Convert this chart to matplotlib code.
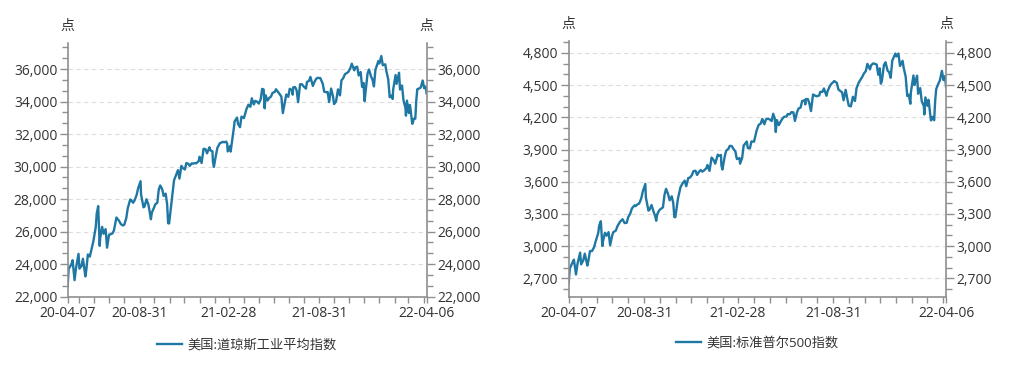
import numpy as np
import pandas as pd
import matplotlib
matplotlib.use("Agg")
import matplotlib.pyplot as plt
import matplotlib.dates as mdates
from matplotlib.ticker import FixedLocator, FixedFormatter, MultipleLocator, StrMethodFormatter

plt.rcParams['font.family'] = ['Open Sans', 'Noto Sans CJK SC', 'DejaVu Sans']

# 日期（两个指数共用）
dates = [
    "2020-04-07", "2020-04-09", "2020-04-14", "2020-04-17", "2020-04-21", "2020-04-24",
    "2020-04-29", "2020-05-01", "2020-05-05", "2020-05-08", "2020-05-13", "2020-05-15",
    "2020-05-18", "2020-05-22", "2020-05-26", "2020-05-29", "2020-06-03", "2020-06-05",
    "2020-06-08", "2020-06-11", "2020-06-12", "2020-06-16", "2020-06-19", "2020-06-23",
    "2020-06-26", "2020-06-30", "2020-07-02", "2020-07-07", "2020-07-10", "2020-07-15",
    "2020-07-20", "2020-07-24", "2020-07-28", "2020-07-31", "2020-08-04", "2020-08-07",
    "2020-08-12", "2020-08-14", "2020-08-18", "2020-08-21", "2020-08-25", "2020-08-28",
    "2020-09-02", "2020-09-03", "2020-09-08", "2020-09-10", "2020-09-14", "2020-09-18",
    "2020-09-21", "2020-09-23", "2020-09-25", "2020-09-29", "2020-10-02", "2020-10-06",
    "2020-10-09", "2020-10-12", "2020-10-16", "2020-10-19", "2020-10-23", "2020-10-26",
    "2020-10-28", "2020-10-30", "2020-11-04", "2020-11-09", "2020-11-13", "2020-11-17",
    "2020-11-20", "2020-11-24", "2020-11-27", "2020-12-01", "2020-12-04", "2020-12-08",
    "2020-12-11", "2020-12-15", "2020-12-18", "2020-12-21", "2020-12-24", "2020-12-29",
    "2020-12-31",
    "2021-01-04", "2021-01-08", "2021-01-12", "2021-01-15", "2021-01-20", "2021-01-22",
    "2021-01-26", "2021-01-27", "2021-01-29", "2021-02-02", "2021-02-05", "2021-02-10",
    "2021-02-12", "2021-02-16", "2021-02-19", "2021-02-23", "2021-02-25", "2021-02-26",
    "2021-03-03", "2021-03-04", "2021-03-08", "2021-03-11", "2021-03-12", "2021-03-17",
    "2021-03-19", "2021-03-23", "2021-03-26", "2021-03-31", "2021-04-05", "2021-04-09",
    "2021-04-13", "2021-04-16", "2021-04-20", "2021-04-23", "2021-04-27", "2021-04-30",
    "2021-05-04", "2021-05-07", "2021-05-10", "2021-05-12", "2021-05-14", "2021-05-18",
    "2021-05-21", "2021-05-25", "2021-05-28", "2021-06-02", "2021-06-04", "2021-06-08",
    "2021-06-11", "2021-06-15", "2021-06-18", "2021-06-22", "2021-06-25", "2021-06-29",
    "2021-07-02", "2021-07-07", "2021-07-08", "2021-07-09", "2021-07-13", "2021-07-16",
    "2021-07-19", "2021-07-23", "2021-07-27", "2021-07-30", "2021-08-04", "2021-08-06",
    "2021-08-10", "2021-08-13", "2021-08-18", "2021-08-20", "2021-08-24", "2021-08-27",
    "2021-09-02", "2021-09-07", "2021-09-10", "2021-09-14", "2021-09-17", "2021-09-20",
    "2021-09-24", "2021-09-28", "2021-09-30", "2021-10-04", "2021-10-08", "2021-10-12",
    "2021-10-15", "2021-10-19", "2021-10-22", "2021-10-26", "2021-10-29", "2021-11-02",
    "2021-11-05", "2021-11-10", "2021-11-12", "2021-11-16", "2021-11-19", "2021-11-23",
    "2021-11-26", "2021-11-29", "2021-11-30", "2021-12-01", "2021-12-03", "2021-12-07",
    "2021-12-10", "2021-12-14", "2021-12-17", "2021-12-20", "2021-12-23", "2021-12-29",
    "2021-12-31",
    "2022-01-04", "2022-01-07", "2022-01-12", "2022-01-14", "2022-01-18", "2022-01-21",
    "2022-01-24", "2022-01-27", "2022-01-28", "2022-02-02", "2022-02-04", "2022-02-09",
    "2022-02-11", "2022-02-15", "2022-02-18", "2022-02-22", "2022-02-23", "2022-02-25",
    "2022-03-01", "2022-03-03", "2022-03-04", "2022-03-07", "2022-03-08", "2022-03-11",
    "2022-03-14", "2022-03-16", "2022-03-18", "2022-03-22", "2022-03-25", "2022-03-29",
    "2022-04-01", "2022-04-04", "2022-04-06",
]

# 美国:道琼斯工业平均指数
dow = [
    22653, 23719, 23949, 24242, 23018, 23775,
    24634, 23724, 23883, 24331, 23248, 23685,
    24597, 24465, 24995, 25383, 26270, 27111,
    27572, 25128, 25606, 26290, 25871, 26156,
    25016, 25813, 25827, 25890, 26075, 26870,
    26681, 26469, 26379, 26428, 26828, 27433,
    27976, 27931, 27778, 27930, 28249, 28654,
    29100, 28292, 27500, 27535, 27993, 27657,
    27148, 26763, 27174, 27452, 27682, 27773,
    28586, 28837, 28606, 28195, 28335, 27685,
    26519, 26501, 27847, 29157, 29479, 29784,
    29263, 30046, 29910, 29823, 30218, 30173,
    30046, 30199, 30179, 30216, 30200, 30335,
    30606,
    30223, 31098, 31069, 30814, 31188, 30997,
    30937, 30303, 29983, 30688, 31148, 31438,
    31458, 31523, 31494, 31537, 31402, 30932,
    31270, 30924, 31802, 32486, 32779, 33015,
    32628, 32423, 33073, 32982, 33527, 33801,
    33677, 34200, 33821, 34043, 33985, 33875,
    34133, 34778, 34743, 33587, 34382, 34061,
    34208, 34313, 34529, 34600, 34756, 34600,
    34480, 34299, 33290, 33945, 34433, 34292,
    34786, 34681, 34422, 34870, 34889, 34687,
    33962, 35062, 35059, 34935, 34793, 35209,
    35264, 35515, 34961, 35120, 35367, 35456,
    35443, 35101, 34607, 34578, 34584, 33970,
    34798, 34300, 33844, 34003, 34746, 34378,
    35295, 35458, 35677, 35757, 35820, 36053,
    36328, 35921, 36100, 36143, 35602, 35814,
    34899, 35136, 34484, 34022, 34580, 35720,
    35971, 35544, 35365, 34932, 35950, 36488,
    36338,
    36800, 36231, 36290, 35912, 35368, 34265,
    34364, 34160, 34725, 35629, 35089, 35768,
    34738, 34988, 34079, 33596, 33131, 34058,
    33294, 33794, 33615, 32817, 32633, 32944,
    32945, 34063, 34755, 34807, 34862, 35294,
    34818, 34922, 34497,
]

# 美国:标准普尔500指数
spx = [
    2659, 2790, 2846, 2875, 2737, 2837,
    2940, 2831, 2868, 2930, 2820, 2864,
    2954, 2955, 2991, 3044, 3123, 3194,
    3232, 3002, 3041, 3125, 3098, 3131,
    3009, 3100, 3130, 3145, 3185, 3227,
    3251, 3215, 3218, 3271, 3306, 3351,
    3380, 3373, 3390, 3397, 3443, 3508,
    3580, 3455, 3331, 3339, 3383, 3319,
    3281, 3237, 3298, 3335, 3348, 3361,
    3477, 3534, 3484, 3427, 3465, 3400,
    3271, 3270, 3443, 3550, 3585, 3610,
    3558, 3635, 3638, 3662, 3699, 3702,
    3663, 3695, 3709, 3694, 3703, 3727,
    3756,
    3701, 3825, 3801, 3768, 3852, 3841,
    3849, 3751, 3714, 3826, 3887, 3910,
    3934, 3932, 3907, 3881, 3829, 3811,
    3820, 3768, 3821, 3939, 3943, 3974,
    3913, 3910, 3975, 3973, 4077, 4129,
    4142, 4185, 4135, 4180, 4187, 4181,
    4165, 4233, 4189, 4063, 4174, 4127,
    4156, 4188, 4204, 4208, 4230, 4227,
    4247, 4246, 4166, 4246, 4281, 4291,
    4352, 4358, 4320, 4370, 4369, 4327,
    4258, 4412, 4401, 4395, 4403, 4437,
    4436, 4468, 4400, 4442, 4486, 4509,
    4537, 4520, 4459, 4443, 4433, 4358,
    4455, 4353, 4308, 4301, 4391, 4351,
    4471, 4520, 4545, 4575, 4605, 4631,
    4697, 4646, 4683, 4701, 4698, 4691,
    4595, 4655, 4567, 4513, 4538, 4687,
    4712, 4634, 4620, 4568, 4726, 4793,
    4766,
    4793, 4677, 4726, 4663, 4577, 4398,
    4410, 4326, 4432, 4589, 4500, 4587,
    4419, 4471, 4349, 4305, 4226, 4385,
    4306, 4363, 4329, 4201, 4170, 4204,
    4173, 4358, 4463, 4512, 4543, 4632,
    4546, 4583, 4481,
]

x_labels = ["20-04-07", "20-08-31", "21-02-28", "21-08-31", "22-04-06"]

LINE_C = "#1f77a4"
AXIS_C = "#8f8f8f"
TEXT_C = "#333333"
GRID_C = "#dcdcdc"

t = pd.to_datetime(dates)
start, end = t[0], t[-1]
# 刻度：起止日期 + 每月月末
month_ends = pd.date_range(start, end, freq="ME")
tick_dates = [start] + list(month_ends) + [end]
tick_txt = [d.strftime("%y-%m-%d") if d.strftime("%y-%m-%d") in x_labels else ""
            for d in tick_dates]

fig = plt.figure(figsize=(10.1, 3.71), dpi=100)


def draw(rect, values, ylim, major, label, unit_y, leg_y):
    ax = fig.add_axes(rect)
    ax.plot(t, values, color=LINE_C, lw=1.7, label=label)
    ax.set_xlim(start, end)
    ax.set_ylim(*ylim)

    ax.xaxis.set_major_locator(FixedLocator(mdates.date2num(tick_dates)))
    ax.xaxis.set_major_formatter(FixedFormatter(tick_txt))
    ax.yaxis.set_major_locator(MultipleLocator(major))
    ax.yaxis.set_minor_locator(MultipleLocator(major / 3))
    ax.yaxis.set_major_formatter(StrMethodFormatter("{x:,.0f}"))

    for s in ["left", "right", "bottom"]:
        ax.spines[s].set_color(AXIS_C)
        ax.spines[s].set_linewidth(1.2)
    ax.spines["top"].set_visible(False)

    ax.tick_params(axis="y", which="both", left=True, right=True,
                   labelleft=True, labelright=True, direction="out",
                   color=AXIS_C, labelcolor=TEXT_C, labelsize=10, pad=1.5)
    ax.tick_params(axis="y", which="major", length=6, width=1.0)
    ax.tick_params(axis="y", which="minor", length=4, width=1.0)
    ax.tick_params(axis="x", which="major", direction="out", length=4, width=1.0,
                   color=AXIS_C, labelcolor=TEXT_C, labelsize=10, pad=3)

    ax.grid(axis="y", which="major", color=GRID_C, lw=0.8, ls=(0, (4, 3)))
    ax.set_axisbelow(True)

    ax.text(0, unit_y, "点", transform=ax.transAxes, ha="center", va="center",
            fontsize=10, color=TEXT_C)
    ax.text(1, unit_y, "点", transform=ax.transAxes, ha="center", va="center",
            fontsize=10, color=TEXT_C)

    ax.legend(loc="center", bbox_to_anchor=(0.5, leg_y), frameon=False,
              fontsize=9.5, handlelength=1.9, handletextpad=0.4,
              labelcolor=TEXT_C)
    return ax


draw([0.067, 0.2003, 0.3554, 0.6838], dow, (22000, 37600), 2000,
     "美国:道琼斯工业平均指数", 1.064, -0.19)
draw([0.5631, 0.2003, 0.3736, 0.6892], spx, (2530, 4910), 300,
     "美国:标准普尔500指数", 1.064, -0.18)

fig.savefig("out.png", dpi=100)
